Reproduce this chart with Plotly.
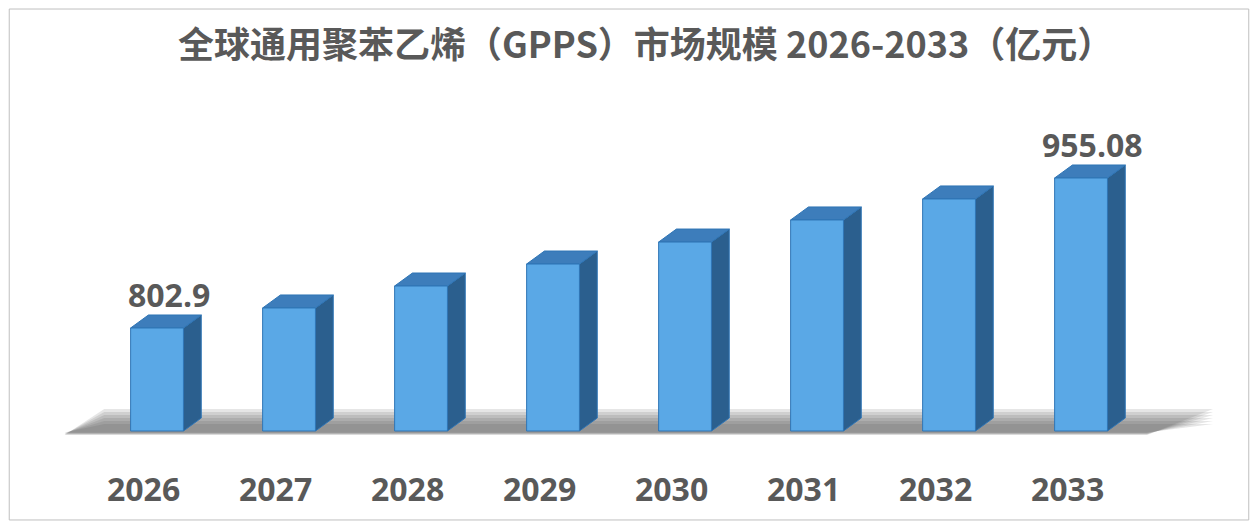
import plotly.graph_objects as go

years = ["2026", "2027", "2028", "2029", "2030", "2031", "2032", "2033"]
values = [802.9, 823.2, 845.5, 867.8, 890.1, 912.5, 933.8, 955.08]
labels = {0: "802.9", 7: "955.08"}

base = 698.4
upp = 1.0145  # value units per pixel
xs = list(range(len(years)))
hw, dx, dy = 0.2, 0.135, 13 * upp

fig = go.Figure()
fig.add_trace(go.Scatter(x=xs, y=values, mode="markers", marker=dict(opacity=0), hoverinfo="skip", showlegend=False))

shapes = []
for k in range(6):
    shapes.append(dict(type="path", xref="x", yref="y",
        path=f"M -0.7,{base-(4-k*0.5)*upp} L 7.5,{base-(4-k*0.5)*upp} L 8.0,{base+(22-k*3)*upp} L -0.4,{base+(22-k*3)*upp} Z",
        fillcolor="rgba(80,80,80,0.14)", line=dict(width=0), layer="below"))
for x, v in zip(xs, values):
    l, r = x - hw, x + hw
    shapes.append(dict(type="path", xref="x", yref="y",
        path=f"M {r},{base} L {r+dx},{base+dy} L {r+dx},{v+dy} L {r},{v} Z",
        fillcolor="#2B5F8E", line=dict(color="#2F75B5", width=1)))
    shapes.append(dict(type="path", xref="x", yref="y",
        path=f"M {l},{v} L {r},{v} L {r+dx},{v+dy} L {l+dx},{v+dy} Z",
        fillcolor="#3D7DBB", line=dict(color="#2F75B5", width=1)))
    shapes.append(dict(type="rect", xref="x", yref="y", x0=l, x1=r, y0=base, y1=v,
        fillcolor="#5AA8E6", line=dict(color="#2F75B5", width=1)))
shapes.append(dict(type="rect", xref="paper", yref="paper", x0=0.001, x1=0.999, y0=0.002, y1=0.998,
    line=dict(color="#BFBFBF", width=1)))

ann = [dict(text="<b>全球通用聚苯乙烯（GPPS）市场规模 2026-2033（亿元）</b>", xref="paper", yref="paper",
            x=0.513, y=0.934, yanchor="middle", showarrow=False,
            font=dict(size=36, color="#595959", family="Noto Sans CJK SC"))]
for x, y in zip(xs, years):
    ann.append(dict(text=f"<b>{y}</b>", x=x - 0.1, y=base - 57 * upp, showarrow=False,
                    font=dict(size=32, color="#595959", family="Open Sans")))
for i, t in labels.items():
    ann.append(dict(text=f"<b>{t}</b>", x=xs[i] + 0.09, y=values[i] + 33 * upp, showarrow=False,
                    font=dict(size=32, color="#595959", family="Open Sans")))

fig.update_layout(width=1242, height=513, margin=dict(l=0, r=0, t=0, b=0),
    paper_bgcolor="white", plot_bgcolor="white", shapes=shapes, annotations=ann,
    xaxis=dict(range=[-1.129, 8.28], visible=False, fixedrange=True),
    yaxis=dict(range=[base - 90 * upp, base + 423 * upp], visible=False, fixedrange=True))
fig.write_html("out.html")
